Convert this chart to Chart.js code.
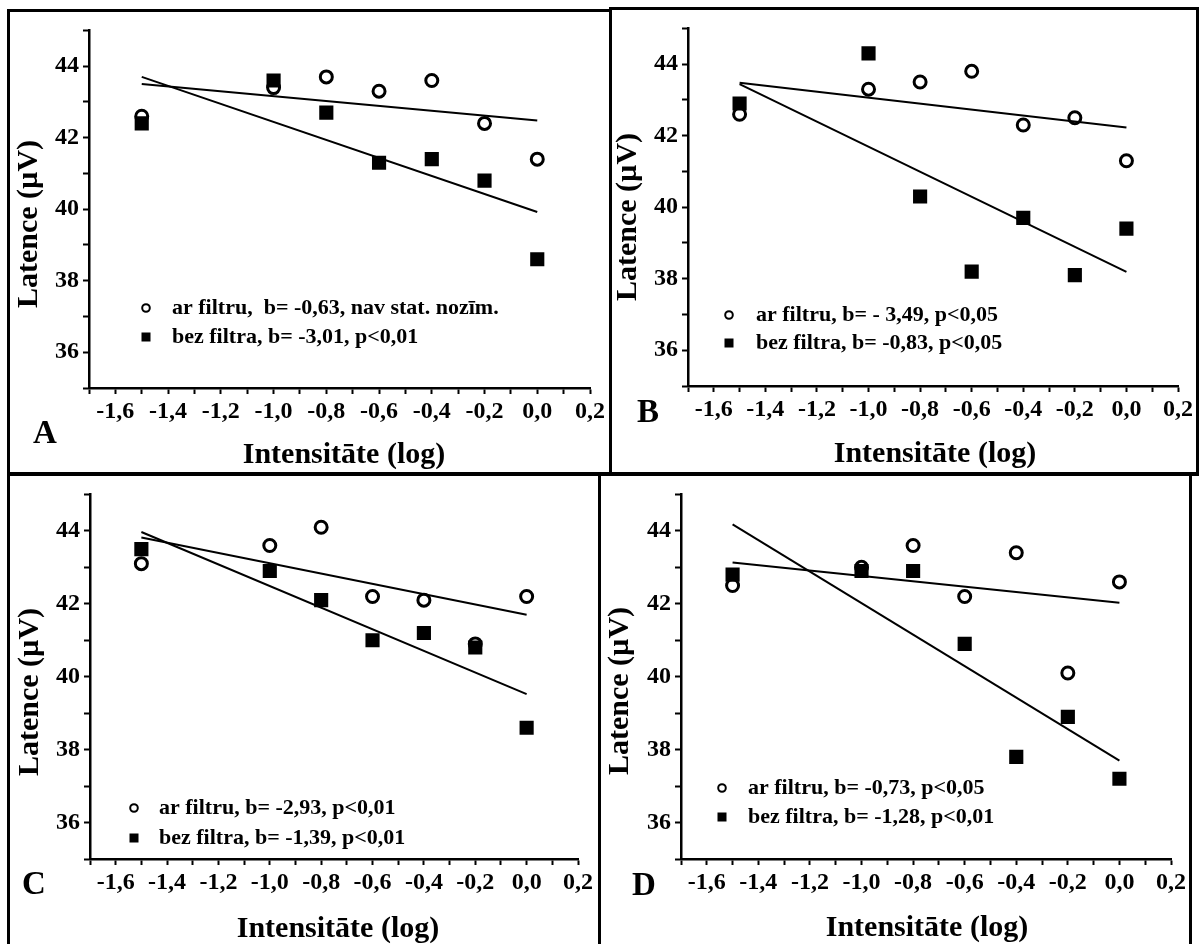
<!DOCTYPE html>
<html>
<head>
<meta charset="utf-8">
<script src="https://cdn.jsdelivr.net/npm/chart.js@4.4.1/dist/chart.umd.min.js"></script>
<style>
  body { margin: 0; background: #fff; width: 1204px; height: 944px; position: relative; overflow: hidden; }
  canvas { position: absolute; }
  .rule { position: absolute; background: #000; z-index: 2; }
</style>
</head>
<body>
<canvas id="chartA"></canvas>
<canvas id="chartB"></canvas>
<canvas id="chartC"></canvas>
<canvas id="chartD"></canvas>

<!-- frame lines around the four panels -->
<div class="rule" style="left:7px;top:9px;width:605px;height:3px"></div>
<div class="rule" style="left:610px;top:7px;width:589px;height:3px"></div>
<div class="rule" style="left:7px;top:9px;width:3px;height:935px"></div>
<div class="rule" style="left:609px;top:7px;width:3px;height:467px"></div>
<div class="rule" style="left:1196px;top:7px;width:3px;height:468px"></div>
<div class="rule" style="left:7px;top:472px;width:1192px;height:4px"></div>
<div class="rule" style="left:598px;top:472px;width:3px;height:472px"></div>
<div class="rule" style="left:1189px;top:472px;width:3px;height:472px"></div>

<script>
// x values (log intensity) shared by all four panels
const intensity = [-1.5, -1.0, -0.8, -0.6, -0.4, -0.2, 0.0];
const fitX = [-1.5, 0.0];

// A
const arFiltruA  = [42.6, 43.4, 43.7, 43.3, 43.6, 42.4, 41.4];
const bezFiltraA = [42.4, 43.6, 42.7, 41.3, 41.4, 40.8, 38.6];
const fitArA  = [43.50, 42.48];
const fitBezA = [43.70, 39.92];

// B
const arFiltruB  = [42.6, 43.3, 43.5, 43.8, 42.3, 42.5, 41.3];
const bezFiltraB = [42.9, 44.3, 40.3, 38.2, 39.7, 38.1, 39.4];
const fitArB  = [43.48, 42.23];
const fitBezB = [43.44, 38.19];

// C
const arFiltruC  = [43.1, 43.6, 44.1, 42.2, 42.1, 40.9, 42.2];
const bezFiltraC = [43.5, 42.9, 42.1, 41.0, 41.2, 40.8, 38.6];
const fitArC  = [43.82, 41.70];
const fitBezC = [43.97, 39.52];

// D
const arFiltruD  = [42.5, 43.0, 43.6, 42.2, 43.4, 40.1, 42.6];
const bezFiltraD = [42.8, 42.9, 42.9, 40.9, 37.8, 38.9, 37.2];
const fitArD  = [43.13, 42.03];
const fitBezD = [44.18, 37.70];

const legendA = ['ar filtru,  b= -0,63, nav stat. nozīm.', 'bez filtra, b= -3,01, p<0,01'];
const legendB = ['ar filtru, b= - 3,49, p<0,05', 'bez filtra, b= -0,83, p<0,05'];
const legendC = ['ar filtru, b= -2,93, p<0,01', 'bez filtra, b= -1,39, p<0,01'];
const legendD = ['ar filtru, b= -0,73, p<0,05', 'bez filtra, b= -1,28, p<0,01'];

const xTickValues = [-1.6, -1.4, -1.2, -1.0, -0.8, -0.6, -0.4, -0.2, 0.0, 0.2];
const xTickLabels = ['-1,6', '-1,4', '-1,2', '-1,0', '-0,8', '-0,6', '-0,4', '-0,2', '0,0', '0,2'];
const yTickValues = [36, 38, 40, 42, 44];
const yTickLabels = ['36', '38', '40', '42', '44'];

const xTitle = 'Intensitāte (log)';
const yTitle = 'Latence (µV)';

const serif = '"Liberation Serif", "Times New Roman", serif';

// page layout: canvas box, plot area, text anchors (all page px)
const panels = [
  { id: 'A', ar: arFiltruA, bez: bezFiltraA, fitAr: fitArA, fitBez: fitBezA, legend: legendA,
    box: [10, 12, 598, 460], area: [89, 24, 591, 388],
    letter: [45, 434], xt: [344, 455], yt: [29, 224], leg: [146, 172, 308, 337] },
  { id: 'B', ar: arFiltruB, bez: bezFiltraB, fitAr: fitArB, fitBez: fitBezB, legend: legendB,
    box: [612, 10, 584, 462], area: [688, 13, 1180, 386],
    letter: [648, 413], xt: [935, 454], yt: [628, 217], leg: [729, 756, 315, 343] },
  { id: 'C', ar: arFiltruC, bez: bezFiltraC, fitAr: fitArC, fitBez: fitBezC, legend: legendC,
    box: [10, 476, 588, 468], area: [90, 488, 578, 859],
    letter: [34, 885], xt: [338, 929], yt: [30, 692], leg: [134, 159, 808, 838] },
  { id: 'D', ar: arFiltruD, bez: bezFiltraD, fitAr: fitArD, fitBez: fitBezD, legend: legendD,
    box: [601, 476, 588, 468], area: [681, 487, 1171, 859],
    letter: [644, 886], xt: [927, 928], yt: [620, 691], leg: [722, 748, 788, 817] }
];

function pickLabel(values, labels, v) {
  const i = values.findIndex(t => Math.abs(t - v) < 1e-6);
  return i >= 0 ? labels[i] : '';
}

// titles, panel letter and the legend box
function textPlugin(p) {
  const ox = p.box[0], oy = p.box[1];
  return {
    id: 'panelText' + p.id,
    afterDraw(chart) {
      const ctx = chart.ctx;
      ctx.save();
      ctx.fillStyle = '#000';
      ctx.strokeStyle = '#000';
      ctx.textAlign = 'center';
      ctx.textBaseline = 'middle';

      ctx.font = 'bold 30px ' + serif;
      ctx.fillText(xTitle, p.xt[0] - ox, p.xt[1] - oy);
      ctx.save();
      ctx.translate(p.yt[0] - ox, p.yt[1] - oy);
      ctx.rotate(-Math.PI / 2);
      ctx.fillText(yTitle, 0, 0);
      ctx.restore();

      ctx.font = 'bold 33px ' + serif;
      ctx.fillText(p.id, p.letter[0] - ox, p.letter[1] - oy);

      const mx = p.leg[0] - ox, tx = p.leg[1] - ox;
      const r1 = p.leg[2] - oy, r2 = p.leg[3] - oy;
      ctx.lineWidth = 2;
      ctx.beginPath();
      ctx.arc(mx, r1, 3.8, 0, Math.PI * 2);
      ctx.stroke();
      ctx.fillRect(mx - 4.5, r2 - 4.5, 9, 9);

      ctx.font = 'bold 22px ' + serif;
      ctx.textAlign = 'left';
      ctx.fillText(p.legend[0], tx, r1);
      ctx.fillText(p.legend[1], tx, r2);
      ctx.restore();
    }
  };
}

function drawPanel(p) {
  const cv = document.getElementById('chart' + p.id);
  const [bx, by, bw, bh] = p.box;
  cv.width = bw;
  cv.height = bh;
  cv.style.left = bx + 'px';
  cv.style.top = by + 'px';

  const tickFont = { family: serif, size: 24, weight: 'bold' };

  new Chart(cv, {
    type: 'scatter',
    data: {
      datasets: [
        {
          data: fitX.map((x, i) => ({ x: x, y: p.fitAr[i] })),
          showLine: true, pointRadius: 0, borderColor: '#000', borderWidth: 2
        },
        {
          data: fitX.map((x, i) => ({ x: x, y: p.fitBez[i] })),
          showLine: true, pointRadius: 0, borderColor: '#000', borderWidth: 2
        },
        {
          label: 'bez filtra',
          data: intensity.map((x, i) => ({ x: x, y: p.bez[i] })),
          pointStyle: 'rect', pointRadius: 10, borderWidth: 0,
          backgroundColor: '#000', borderColor: '#000'
        },
        {
          label: 'ar filtru',
          data: intensity.map((x, i) => ({ x: x, y: p.ar[i] })),
          pointStyle: 'circle', pointRadius: 6, borderWidth: 3,
          backgroundColor: 'rgba(0,0,0,0)', borderColor: '#000'
        }
      ]
    },
    options: {
      responsive: false,
      animation: false,
      events: [],
      layout: {
        padding: { left: 0, bottom: 0, top: p.area[1] - by, right: bx + bw - p.area[2] }
      },
      plugins: { legend: { display: false }, tooltip: { enabled: false } },
      scales: {
        x: {
          type: 'linear', min: -1.7, max: 0.2,
          afterFit(s) { s.height = by + bh - p.area[3]; },
          border: { color: '#000', width: 2.5 },
          grid: { drawOnChartArea: false, drawTicks: true, tickLength: 6, tickWidth: 2, tickColor: '#000' },
          ticks: {
            stepSize: 0.1, autoSkip: false, maxRotation: 0, padding: 3,
            color: '#000', font: tickFont,
            callback: v => pickLabel(xTickValues, xTickLabels, v)
          }
        },
        y: {
          type: 'linear', min: 35, max: 45,
          afterFit(s) { s.width = p.area[0] - bx; },
          border: { color: '#000', width: 2.5 },
          grid: { drawOnChartArea: false, drawTicks: true, tickLength: 6, tickWidth: 2, tickColor: '#000' },
          ticks: {
            stepSize: 1, autoSkip: false, padding: 4,
            color: '#000', font: tickFont,
            callback: v => pickLabel(yTickValues, yTickLabels, v)
          }
        }
      }
    },
    plugins: [textPlugin(p)]
  });
}

panels.forEach(drawPanel);
</script>
</body>
</html>
